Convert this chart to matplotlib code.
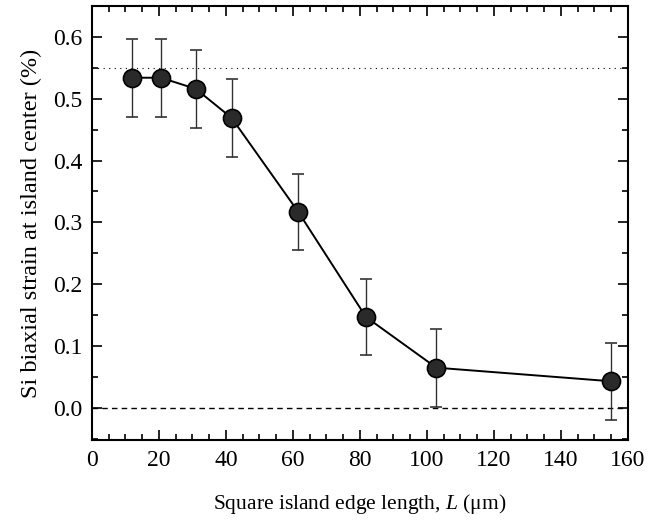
import numpy as np
import matplotlib
matplotlib.use('Agg')
import matplotlib.pyplot as plt
from matplotlib.ticker import MultipleLocator

plt.rcParams['font.family'] = 'Liberation Serif'
plt.rcParams['mathtext.fontset'] = 'custom'
plt.rcParams['mathtext.rm'] = 'Liberation Serif'
plt.rcParams['mathtext.it'] = 'Liberation Serif:italic'

# island edge length (um) vs strain at center (%)
edge_len = [11.9, 20.6, 31.0, 41.7, 61.6, 81.8, 102.8, 155.0]
strain = [0.534, 0.534, 0.516, 0.469, 0.317, 0.147, 0.065, 0.043]
strain_err = [0.063, 0.063, 0.063, 0.063, 0.062, 0.061, 0.063, 0.062]
ref_strain = 0.55

fig = plt.figure(figsize=(6.52, 5.23), dpi=100)
ax = fig.add_axes([0.141, 0.1587, 0.822, 0.8298])

ax.axhline(ref_strain, color='black', lw=0.8, ls=(0, (1, 4)), zorder=1)
ax.axhline(0.0, color='black', lw=1.0, ls=(0, (4, 3)), zorder=1)

ax.errorbar(edge_len, strain, yerr=strain_err, fmt='o-', color='black',
            lw=1.4, ms=13, mfc='#2a2a2a', mec='black', mew=1.2,
            ecolor='#333333', elinewidth=1.0, capsize=4, capthick=1.0, zorder=3)

ax.set_xlim(0, 160)
ax.set_ylim(-0.052, 0.65)
ax.xaxis.set_major_locator(MultipleLocator(20))
ax.xaxis.set_minor_locator(MultipleLocator(5))
ax.yaxis.set_major_locator(MultipleLocator(0.1))
ax.yaxis.set_minor_locator(MultipleLocator(0.05))
ax.yaxis.set_major_formatter(matplotlib.ticker.FormatStrFormatter('%.1f'))

ax.tick_params(which='both', direction='in', top=True, right=True, labelsize=17, width=1.2)
ax.tick_params(which='major', length=7, pad=7)
ax.tick_params(which='minor', length=4)
for s in ax.spines.values():
    s.set_linewidth(1.5)

ax.set_xlabel(r'Square island edge length, $L$ (μm)', fontsize=15.5, labelpad=15)
ax.set_ylabel('Si biaxial strain at island center (%)', fontsize=17.5, labelpad=8)

plt.savefig('out.png', dpi=100)
